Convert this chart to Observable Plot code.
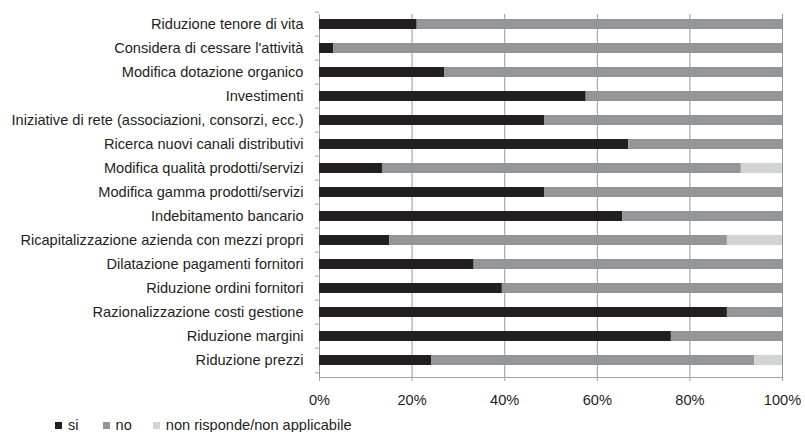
<!DOCTYPE html>
<html>
<head>
<meta charset="utf-8">
<script src="https://cdn.jsdelivr.net/npm/d3@7"></script>
<script src="https://cdn.jsdelivr.net/npm/@observablehq/plot@0.6"></script>
<style>
  body { margin: 0; background: #fff; font-family: "Liberation Sans", Arial, sans-serif; }
  #chart svg { display: block; }
  #legend { display: flex; align-items: center; padding-left: 55px; margin-top: 6px; height: 14px; line-height: 14px; font-size: 14.6px; color: #231f20; white-space: nowrap; }
  #legend .item { display: flex; align-items: center; }
  #legend .sw { width: 7px; height: 7px; margin-right: 6px; }
</style>
</head>
<body>
<div id="chart"></div>
<script>
const categories = [
  "Riduzione tenore di vita",
  "Considera di cessare l'attività",
  "Modifica dotazione organico",
  "Investimenti",
  "Iniziative di rete (associazioni, consorzi, ecc.)",
  "Ricerca nuovi canali distributivi",
  "Modifica qualità prodotti/servizi",
  "Modifica gamma prodotti/servizi",
  "Indebitamento bancario",
  "Ricapitalizzazione azienda con mezzi propri",
  "Dilatazione pagamenti fornitori",
  "Riduzione ordini fornitori",
  "Razionalizzazione costi gestione",
  "Riduzione margini",
  "Riduzione prezzi"
];
const series = ["si", "no", "non risponde/non applicabile"];
const siValues = [21.1, 3.1, 27.1, 57.6, 48.7, 66.8, 13.6, 48.7, 65.5, 15.2, 33.4, 39.5, 88.1, 76.0, 24.2];
const noValues = [78.9, 96.9, 72.9, 42.4, 51.3, 33.2, 77.5, 51.3, 34.5, 72.9, 66.6, 60.5, 11.9, 24.0, 69.8];
const nrValues = [0, 0, 0, 0, 0, 0, 8.9, 0, 0, 11.9, 0, 0, 0, 0, 6.0];
const xTicks = [0, 20, 40, 60, 80, 100];
const colors = ["#231f20", "#939598", "#d1d3d4"];

const valuesBySeries = [siValues, noValues, nrValues];
const data = [];
categories.forEach((c, i) => {
  series.forEach((s, j) => data.push({category: c, series: s, order: j, value: valuesBySeries[j][i]}));
});

const W = 805, H = 412, mTop = 8, mBottom = 35;
const step = (H - mTop - mBottom) / categories.length;
const FS = 14.6;

const chart = Plot.plot({
  width: W,
  height: H,
  marginLeft: 319,
  marginRight: 23,
  marginTop: mTop,
  marginBottom: mBottom,
  style: {fontFamily: "'Liberation Sans', Arial, sans-serif", fontSize: FS + "px", color: "#231f20", background: "#fff", overflow: "visible"},
  x: {domain: [0, 100], ticks: xTicks, label: null},
  y: {domain: categories, paddingInner: 0.573, paddingOuter: 0.2865, label: null},
  color: {domain: series, range: colors},
  marks: [
    Plot.ruleX(xTicks, {x: d => d, stroke: "#939598", strokeWidth: 1, insetTop: 6}),
    Plot.frame({anchor: "bottom", stroke: "#a0a2a5"}),
    Plot.barX(data, Plot.stackX({x: "value", y: "category", fill: "series", order: "order"})),
    Plot.axisX({ticks: xTicks, tickSize: 4, tickPadding: 13, stroke: "#a0a2a5", tickFormat: d => d + "%", fill: "#231f20", fontSize: FS, label: null}),
    Plot.axisY({tickSize: 0, tickPadding: 16, fill: "#231f20", fontSize: FS, label: null}),
    Plot.axisY({tickSize: 4, tickFormat: () => "", stroke: "#a0a2a5", dy: -step / 2, label: null}),
    Plot.axisY(categories.slice(-1), {tickSize: 4, tickFormat: () => "", stroke: "#a0a2a5", dy: step / 2, label: null})
  ]
});
document.getElementById("chart").appendChild(chart);

const legend = document.createElement("div");
legend.id = "legend";
const gaps = [24, 21, 0];
series.forEach((s, j) => {
  const item = document.createElement("div");
  item.className = "item";
  item.style.marginRight = gaps[j] + "px";
  const sw = document.createElement("span");
  sw.className = "sw";
  sw.style.background = colors[j];
  const t = document.createElement("span");
  t.textContent = s;
  item.appendChild(sw);
  item.appendChild(t);
  legend.appendChild(item);
});
document.body.appendChild(legend);
</script>
</body>
</html>
